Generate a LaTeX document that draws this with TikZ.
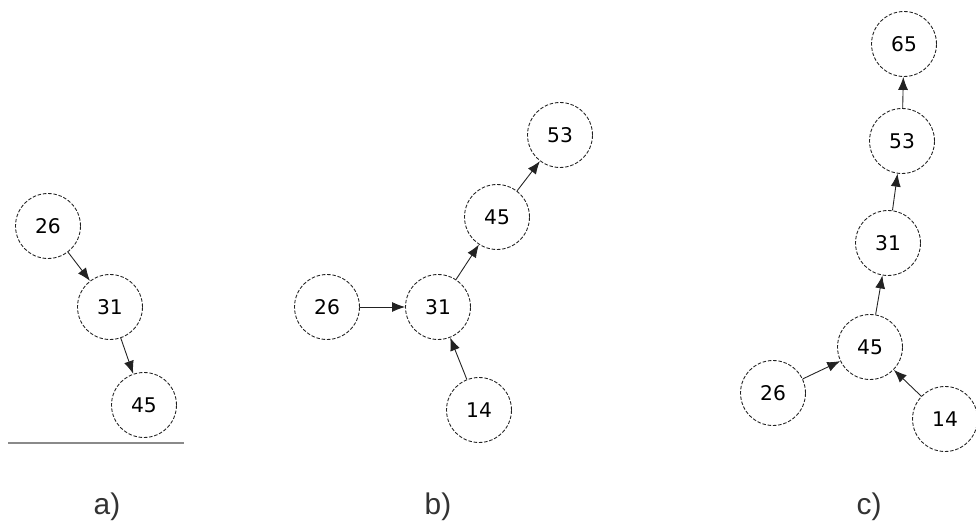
\documentclass[tikz,border=0pt]{standalone}
\usepackage{fontspec}
\setmainfont{Liberation Sans}
\newfontfamily\numfont{DejaVu Sans}
\usepackage{tikz}
\usetikzlibrary{arrows.meta,positioning}
\definecolor{trait}{HTML}{222222}
\definecolor{gris}{HTML}{8A8A8A}
\definecolor{texte}{HTML}{333333}
\tikzset{
  noeud/.style={circle,draw=trait,dash pattern=on 2pt off 1pt,line width=0.5pt,
                minimum size=1.3cm,inner sep=0pt,font=\numfont\fontsize{11.5}{14}\selectfont},
  fleche/.style={-{Latex[length=2.6mm,width=2mm]},line width=0.5pt,color=trait},
  etiquette/.style={anchor=base,text=texte,font=\fontsize{17}{20}\selectfont},
}

\begin{document}
\begin{tikzpicture}[x=0.02cm,y=-0.02cm]
  \useasboundingbox (0,0) rectangle (976,526);
  % a)
  \node[noeud] (a26) at (48,226) {26};
  \node[noeud] (a31) at (110,307) {31};
  \node[noeud] (a45) at (144,405) {45};
  \draw[fleche] (a26) -- (a31);
  \draw[fleche] (a31) -- (a45);
  \coordinate (solG) at (8,443);
  \coordinate (solD) at (184,443);
  \draw[gris,line width=0.8pt] (solG) -- (solD);
  \node[etiquette] (labA) at (107,514) {a)};
  % b)
  \node[noeud] (b26) at (327,307) {26};
  \node[noeud] (b31) at (438,307) {31};
  \node[noeud] (b45) at (497,217) {45};
  \node[noeud] (b53) at (560,135) {53};
  \node[noeud] (b14) at (479,410) {14};
  \draw[fleche] (b26) -- (b31);
  \draw[fleche] (b14) -- (b31);
  \draw[fleche] (b31) -- (b45);
  \draw[fleche] (b45) -- (b53);
  \node[etiquette] (labB) at (438,514) {b)};
  % c)
  \node[noeud] (c65) at (904,44) {65};
  \node[noeud] (c53) at (902,141) {53};
  \node[noeud] (c31) at (888,243) {31};
  \node[noeud] (c45) at (870,347) {45};
  \node[noeud] (c26) at (773,393) {26};
  \node[noeud] (c14) at (945,419) {14};
  \draw[fleche] (c26) -- (c45);
  \draw[fleche] (c14) -- (c45);
  \draw[fleche] (c45) -- (c31);
  \draw[fleche] (c31) -- (c53);
  \draw[fleche] (c53) -- (c65);
  \node[etiquette] (labC) at (869,514) {c)};
\end{tikzpicture}
\end{document}
